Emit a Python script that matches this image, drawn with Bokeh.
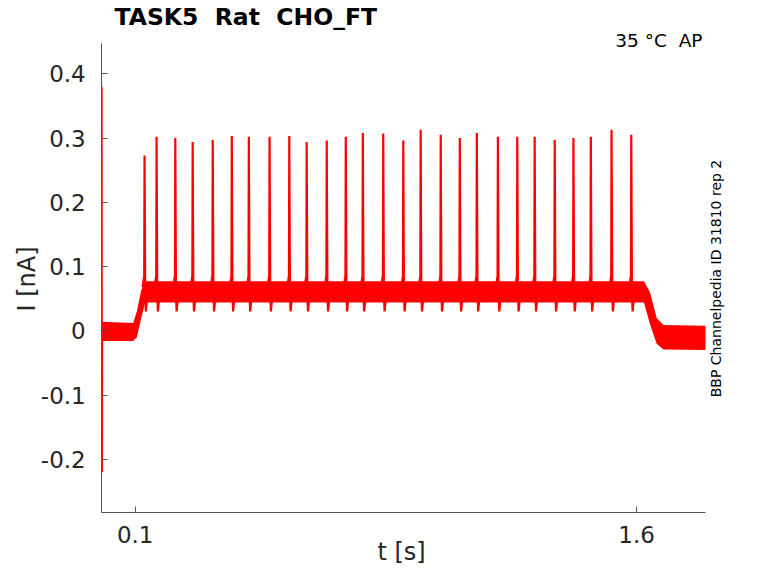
from bokeh.plotting import figure
from bokeh.models import Range1d, FixedTicker, Label
from bokeh.embed import file_html
from bokeh.resources import INLINE

# ---- data ----
spike_t = [0.128, 0.164, 0.220, 0.272, 0.332, 0.389, 0.440, 0.502, 0.561,
           0.613, 0.673, 0.730, 0.781, 0.842, 0.902, 0.954, 1.014, 1.071,
           1.122, 1.185, 1.243, 1.295, 1.355, 1.411, 1.463, 1.525, 1.584]
spike_peak = [0.273, 0.302, 0.300, 0.294, 0.297, 0.303, 0.302, 0.302, 0.303,
              0.294, 0.296, 0.302, 0.308, 0.307, 0.296, 0.313, 0.305, 0.300,
              0.308, 0.302, 0.302, 0.302, 0.297, 0.300, 0.302, 0.313, 0.305]

# noise band of the recorded trace (lower / upper envelope)
env_t = [0.0, 0.094, 0.105, 0.118, 0.130, 1.622, 1.640, 1.660, 1.680, 1.806]
env_lo = [-0.016, -0.016, -0.010, 0.020, 0.044, 0.044, 0.010, -0.020, -0.029, -0.030]
env_hi = [0.014, 0.012, 0.030, 0.063, 0.077, 0.077, 0.060, 0.020, 0.009, 0.008]

# onset artefact
art_t = [0.0, 0.0005, 0.0010, 0.0015, 0.0020]
art_i = [0.0, 0.38, 0.0, -0.22, 0.0]

t_min, t_max = 0.0, 1.806
i_min, i_max = -0.2833, 0.4467
y_ticks = [-0.2, -0.1, 0.0, 0.1, 0.2, 0.3, 0.4]
y_tick_labels = ["-0.2", "-0.1", "0", "0.1", "0.2", "0.3", "0.4"]
x_ticks = [0.1, 1.6]
x_tick_labels = ["0.1", "1.6"]

NB = "\u00a0"
title_text = "TASK5" + NB + NB + "Rat" + NB + NB + "CHO_FT"
corner_text = "35" + NB + "\u00b0C" + NB + NB + "AP"
side_text = "BBP Channelpedia ID 31810 rep 2"
x_label = "t [s]"
y_label = "I [nA]"

RED = "#ff0000"
FONT = "DejaVu Sans"
TXT = "#262626"
AX = "#555555"

W, H = 762, 567
p = figure(width=W, height=H, output_backend="svg", toolbar_location=None,
           x_range=Range1d(-0.30287, 1.97652), y_range=Range1d(-0.36841, 0.51409),
           min_border=0)
p.title.visible = False
p.xgrid.visible = False
p.ygrid.visible = False
p.outline_line_color = None
p.background_fill_color = "white"
p.border_fill_color = "white"

# band
p.varea(x=env_t, y1=env_lo, y2=env_hi, fill_color=RED, fill_alpha=1.0)
# onset artefact
p.line(art_t, art_i, line_color=RED, line_width=1.5)
# spikes
xs, ys = [], []
for t, pk in zip(spike_t, spike_peak):
    xs.append([t - 0.006, t - 0.001, t, t + 0.002, t + 0.004, t + 0.008])
    ys.append([0.068, 0.086, pk, 0.058, 0.030, 0.053])
p.multi_line(xs, ys, line_color=RED, line_width=2.2)

# axes styling
for ax in (p.xaxis[0], p.yaxis[0]):
    ax.axis_line_color = AX
    ax.major_tick_line_color = AX
    ax.major_tick_in = 6
    ax.major_tick_out = 0
    ax.minor_tick_line_color = None
    ax.major_label_text_font = FONT
    ax.major_label_text_font_size = "23px"
    ax.major_label_text_color = TXT

p.xaxis.ticker = FixedTicker(ticks=x_ticks)
p.xaxis.major_label_overrides = {v: s for v, s in zip(x_ticks, x_tick_labels)}
p.xaxis.major_label_standoff = 13
p.xaxis.bounds = (t_min, t_max)
p.xaxis.fixed_location = i_min

p.yaxis.ticker = FixedTicker(ticks=y_ticks)
p.yaxis.major_label_overrides = {v: s for v, s in zip(y_ticks, y_tick_labels)}
p.yaxis.major_label_standoff = 16
p.yaxis.bounds = (i_min, i_max)
p.yaxis.fixed_location = t_min

# texts
p.add_layout(Label(x=0.0381, y=0.4884, text=title_text, text_font=FONT,
                   text_font_size="23.5px", text_font_style="bold",
                   text_color="black", text_align="left",
                   text_baseline="middle"))
p.add_layout(Label(x=1.797, y=0.4523, text=corner_text, text_font=FONT,
                   text_font_size="18.5px", text_color="black",
                   text_align="right", text_baseline="middle"))
p.add_layout(Label(x=1.8389, y=0.0814, text=side_text, text_font=FONT,
                   text_font_size="14px", text_color="black", angle=1.5708,
                   text_align="center", text_baseline="middle"))
p.add_layout(Label(x=0.8967, y=-0.3436, text=x_label, text_font=FONT,
                   text_font_size="24px", text_color=TXT,
                   text_align="center", text_baseline="middle"))
p.add_layout(Label(x=-0.2236, y=0.0806, text=y_label, text_font=FONT,
                   text_font_size="24px", text_color=TXT, angle=1.5708,
                   text_align="center", text_baseline="middle"))

open("out.html", "w").write(file_html(p, INLINE))
